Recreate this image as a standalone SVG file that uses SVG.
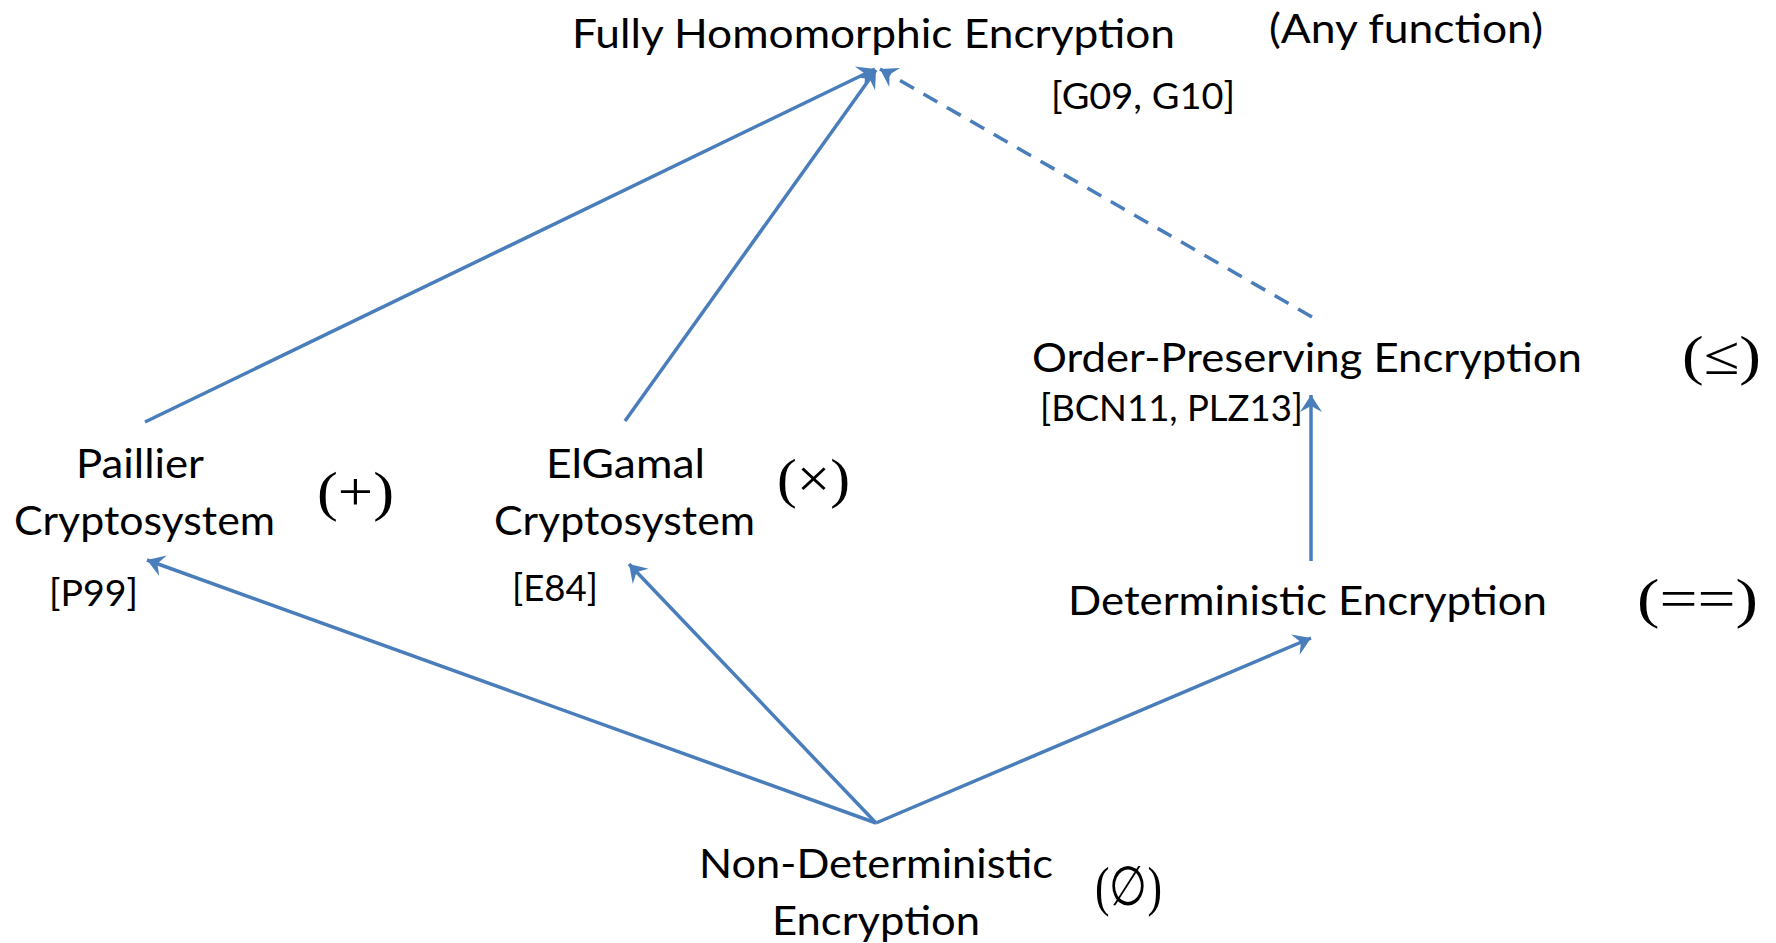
<svg xmlns="http://www.w3.org/2000/svg" width="1776" height="943" viewBox="0 0 1776 943">
<style>
.lbl{font-family:Lato,"Open Sans","Liberation Sans",sans-serif;font-size:40px;fill:#000}
.ref{font-family:Lato,"Open Sans","Liberation Sans",sans-serif;font-size:36px;fill:#000}
.sym{font-family:"Liberation Serif","DejaVu Serif",serif;font-size:55px;fill:#000}
.edge{stroke:#4A7EBB;stroke-width:3.5;fill:none;marker-end:url(#ah)}
.dash{stroke-dasharray:16 11}
</style>
<defs>
<marker id="ah" markerUnits="userSpaceOnUse" viewBox="-19 -12 21 24" refX="0" refY="0" markerWidth="21" markerHeight="24" orient="auto">
<path d="M0,0 L-17,-11 L-11,0 L-17,11 Z" fill="#4A7EBB"/>
</marker>
</defs>
<rect width="1776" height="943" fill="#fff"/>
<g id="connectors">
<line class="edge" x1="145" y1="422" x2="875" y2="69"/>
<line class="edge" x1="625" y1="421" x2="876" y2="70"/>
<line class="edge dash" x1="1312" y1="317" x2="880" y2="69"/>
<line class="edge" x1="876" y1="823" x2="147" y2="560"/>
<line class="edge" x1="876" y1="823" x2="629" y2="564"/>
<line class="edge" x1="876" y1="823" x2="1311" y2="638"/>
<line class="edge" x1="1311" y1="561" x2="1311" y2="395"/>
</g>
<g id="fhe">
<text class="lbl" x="572" y="48" textLength="603" lengthAdjust="spacingAndGlyphs">Fully Homomorphic Encryption</text>
<text class="lbl" x="1269" y="43" textLength="274" lengthAdjust="spacingAndGlyphs">(Any function)</text>
<text class="ref" x="1051" y="109" textLength="184" lengthAdjust="spacingAndGlyphs">[G09, G10]</text>
</g>
<g id="ope">
<text class="lbl" x="1032" y="372" textLength="550" lengthAdjust="spacingAndGlyphs">Order-Preserving Encryption</text>
<text class="sym" x="1682" y="374" textLength="79" lengthAdjust="spacingAndGlyphs">(≤)</text>
<text class="ref" x="1040" y="421" textLength="263" lengthAdjust="spacingAndGlyphs">[BCN11, PLZ13]</text>
</g>
<g id="paillier">
<text class="lbl" x="76" y="478" textLength="128" lengthAdjust="spacingAndGlyphs">Paillier</text>
<text class="lbl" x="14" y="535" textLength="261" lengthAdjust="spacingAndGlyphs">Cryptosystem</text>
<text class="sym" x="317" y="510" textLength="77" lengthAdjust="spacingAndGlyphs">(+)</text>
<text class="ref" x="49" y="606" textLength="89" lengthAdjust="spacingAndGlyphs">[P99]</text>
</g>
<g id="elgamal">
<text class="lbl" x="546" y="478" textLength="159" lengthAdjust="spacingAndGlyphs">ElGamal</text>
<text class="lbl" x="494" y="535" textLength="261" lengthAdjust="spacingAndGlyphs">Cryptosystem</text>
<text class="sym" x="777" y="497" textLength="73" lengthAdjust="spacingAndGlyphs">(×)</text>
<text class="ref" x="512" y="601" textLength="86" lengthAdjust="spacingAndGlyphs">[E84]</text>
</g>
<g id="det">
<text class="lbl" x="1068" y="615" textLength="479" lengthAdjust="spacingAndGlyphs">Deterministic Encryption</text>
<text class="sym" x="1637" y="617" textLength="121" lengthAdjust="spacingAndGlyphs">(==)</text>
</g>
<g id="nondet">
<text class="lbl" x="699" y="878" textLength="354" lengthAdjust="spacingAndGlyphs">Non-Deterministic</text>
<text class="lbl" x="772" y="935" textLength="208" lengthAdjust="spacingAndGlyphs">Encryption</text>
<text class="sym" x="1095" y="905" textLength="67" lengthAdjust="spacingAndGlyphs">(∅)</text>
</g>
</svg>
